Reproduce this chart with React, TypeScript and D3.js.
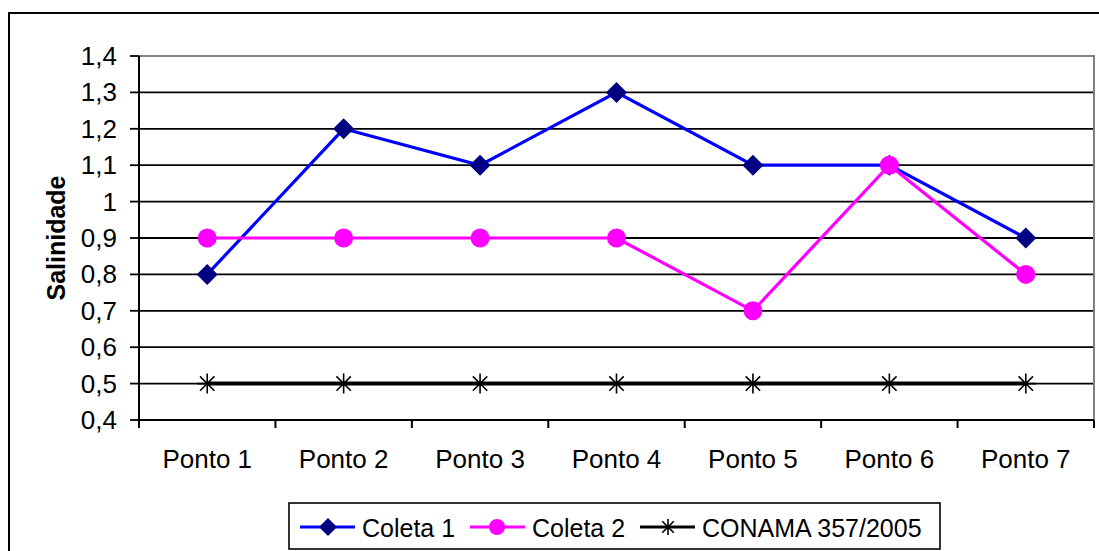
import React from "react";
import * as d3 from "d3";

// Sampling points and the measured salinity per campaign
const categories = ["Ponto 1", "Ponto 2", "Ponto 3", "Ponto 4", "Ponto 5", "Ponto 6", "Ponto 7"];
const coleta1 = [0.8, 1.2, 1.1, 1.3, 1.1, 1.1, 0.9];
const coleta2 = [0.9, 0.9, 0.9, 0.9, 0.7, 1.1, 0.8];
const conama = [0.5, 0.5, 0.5, 0.5, 0.5, 0.5, 0.5];
const yTicks = [0.4, 0.5, 0.6, 0.7, 0.8, 0.9, 1.0, 1.1, 1.2, 1.3, 1.4];

const W = 1099;
const H = 551;
const plot = { left: 139, right: 1094, top: 56, bottom: 420 };
const FONT = "'Liberation Sans', Arial, sans-serif";
const FS = 26;
const LFS = 25;

const fmt = (v: number) => {
  const r = Math.round(v * 10) / 10;
  return Number.isInteger(r) ? String(r) : r.toFixed(1).replace(".", ",");
};

function Diamond({ x, y, s, fill }: { x: number; y: number; s: number; fill: string }) {
  return <path d={`M${x},${y - s}L${x + s},${y}L${x},${y + s}L${x - s},${y}Z`} fill={fill} />;
}

function Asterisk({ x, y, s }: { x: number; y: number; s: number }) {
  const d = s * 0.72;
  return (
    <path
      d={`M${x},${y - s}V${y + s}M${x - d},${y - d}L${x + d},${y + d}M${x - d},${y + d}L${x + d},${y - d}M${x - s},${y}H${x + s}`}
      stroke="#000"
      strokeWidth={1.6}
      fill="none"
    />
  );
}

export default function App() {
  const x = d3.scaleBand<string>().domain(categories).range([plot.left, plot.right]).padding(0);
  const y = d3.scaleLinear().domain([0.4, 1.4]).range([plot.bottom, plot.top]);
  const cx = (c: string) => (x(c) as number) + x.bandwidth() / 2;

  const line = d3
    .line<number>()
    .x((_, i) => cx(categories[i]))
    .y((v) => y(v));

  const edges = [...categories.map((c) => x(c) as number), plot.right];

  return (
    <svg
      width={W}
      height={H}
      style={{ position: "absolute", left: 0, top: 0, background: "#fff" }}
      fontFamily={FONT}
    >
      {/* chart frame */}
      <rect x={9} y={13} width={W + 10} height={H + 10} fill="#fff" stroke="#000" strokeWidth={2} />

      {/* horizontal gridlines */}
      {yTicks.slice(1, -1).map((t) => (
        <line key={t} x1={plot.left} x2={plot.right} y1={y(t)} y2={y(t)} stroke="#000" strokeWidth={1.8} />
      ))}
      {/* plot area border (top/right) */}
      <path
        d={`M${plot.left},${plot.top}H${plot.right}V${plot.bottom}`}
        fill="none"
        stroke="#808080"
        strokeWidth={2}
      />

      {/* y axis */}
      <line x1={plot.left} x2={plot.left} y1={plot.top} y2={plot.bottom} stroke="#000" strokeWidth={2} />
      {yTicks.map((t) => (
        <g key={t}>
          <line x1={plot.left - 9} x2={plot.left} y1={y(t)} y2={y(t)} stroke="#000" strokeWidth={1.8} />
          <text x={117} y={y(t)} textAnchor="end" dominantBaseline="central" fontSize={FS}>
            {fmt(t)}
          </text>
        </g>
      ))}
      <text
        transform={`translate(56,${(plot.top + plot.bottom) / 2}) rotate(-90)`}
        textAnchor="middle"
        dominantBaseline="central"
        fontSize={25}
        fontWeight="bold"
      >
        Salinidade
      </text>

      {/* x axis */}
      <line x1={plot.left} x2={plot.right} y1={plot.bottom} y2={plot.bottom} stroke="#000" strokeWidth={2} />
      {edges.map((e, i) => (
        <line key={i} x1={e} x2={e} y1={plot.bottom} y2={plot.bottom + 8} stroke="#000" strokeWidth={2} />
      ))}
      {categories.map((c) => (
        <text key={c} x={cx(c)} y={468} textAnchor="middle" fontSize={FS}>
          {c}
        </text>
      ))}

      {/* CONAMA 357/2005 limit */}
      <path d={line(conama) as string} fill="none" stroke="#000" strokeWidth={4} />
      {conama.map((v, i) => (
        <Asterisk key={i} x={cx(categories[i])} y={y(v)} s={10} />
      ))}

      {/* Coleta 1 */}
      <path d={line(coleta1) as string} fill="none" stroke="#0000FF" strokeWidth={3.2} />
      {coleta1.map((v, i) => (
        <Diamond key={i} x={cx(categories[i])} y={y(v)} s={10.5} fill="#000080" />
      ))}

      {/* Coleta 2 */}
      <path d={line(coleta2) as string} fill="none" stroke="#FF00FF" strokeWidth={3.2} />
      {coleta2.map((v, i) => (
        <circle key={i} cx={cx(categories[i])} cy={y(v)} r={9.5} fill="#FF00FF" />
      ))}

      {/* legend */}
      <rect x={289} y={503} width={651} height={46} fill="#fff" stroke="#000" strokeWidth={1.6} />
      <line x1={300} x2={355} y1={527} y2={527} stroke="#0000FF" strokeWidth={3.2} />
      <Diamond x={328} y={527} s={9} fill="#000080" />
      <text x={362} y={528} dominantBaseline="central" fontSize={LFS}>
        Coleta 1
      </text>
      <line x1={470} x2={525} y1={527} y2={527} stroke="#FF00FF" strokeWidth={3.2} />
      <circle cx={497} cy={527} r={8} fill="#FF00FF" />
      <text x={532} y={528} dominantBaseline="central" fontSize={LFS}>
        Coleta 2
      </text>
      <line x1={640} x2={695} y1={527} y2={527} stroke="#000" strokeWidth={3.2} />
      <Asterisk x={668} y={527} s={8} />
      <text x={702} y={528} dominantBaseline="central" fontSize={LFS}>
        CONAMA 357/2005
      </text>
    </svg>
  );
}
